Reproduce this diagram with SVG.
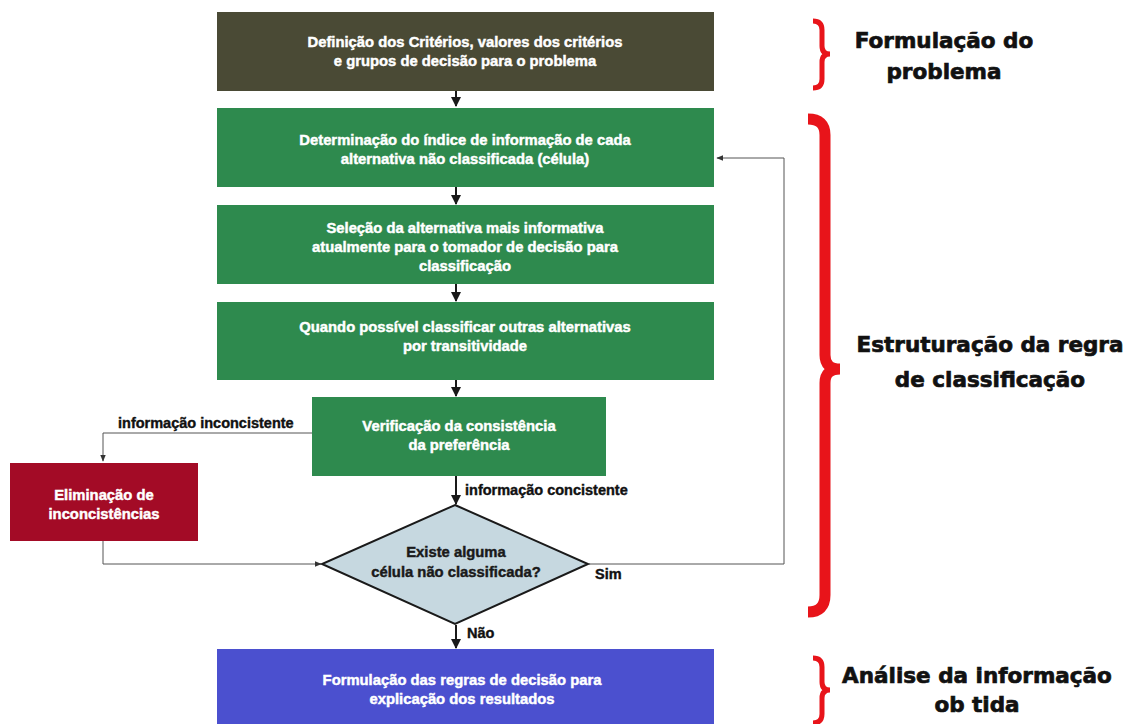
<svg xmlns="http://www.w3.org/2000/svg" width="1134" height="724" viewBox="0 0 1134 724">
  <style>
    .box-text { font-family: "Liberation Sans", Arial, sans-serif; font-weight: bold; font-size: 14.8px; fill: #ffffff; stroke: #ffffff; stroke-width: 0.45; text-anchor: middle; }
    .dark { fill: #1a1a1a; stroke: #1a1a1a; }
    .lbl { font-family: "Liberation Sans", Arial, sans-serif; font-weight: bold; font-size: 14.5px; fill: #111111; stroke: #111111; stroke-width: 0.4; }
    .phase { font-family: "DejaVu Sans", "Liberation Sans", sans-serif; font-weight: bold; font-size: 21.5px; fill: #111111; stroke: #111111; stroke-width: 0.7; text-anchor: middle; }
    .flow { fill: none; stroke: #1a1a1a; stroke-width: 2; }
    .thin { fill: none; stroke: #555555; stroke-width: 1; }
    .brace { fill: none; stroke: #e8141a; stroke-linecap: butt; }
  </style>
  <defs>
    <marker id="arrow" viewBox="0 0 10 10" refX="9" refY="5" markerWidth="5" markerHeight="5" orient="auto">
      <path d="M0,0 L10,5 L0,10 z" fill="#1a1a1a"/>
    </marker>
    <marker id="arrow-thin" viewBox="0 0 10 10" refX="9" refY="5" markerWidth="7" markerHeight="7" orient="auto">
      <path d="M0,1 L10,5 L0,9 z" fill="#333333"/>
    </marker>
  </defs>

  <rect width="1134" height="724" fill="#ffffff"/>

  <!-- connectors -->
  <g id="connectors">
    <path class="flow" d="M456,91 V106" marker-end="url(#arrow)"/>
    <path class="flow" d="M456,187 V204" marker-end="url(#arrow)"/>
    <path class="flow" d="M456,284 V301" marker-end="url(#arrow)"/>
    <path class="flow" d="M456,380 V396" marker-end="url(#arrow)"/>
    <path class="flow" d="M456,476 V504" marker-end="url(#arrow)"/>
    <path class="flow" d="M456,625 V648" marker-end="url(#arrow)"/>
    <!-- inconsistent branch -->
    <path class="thin" d="M312,433 H103 V461" marker-end="url(#arrow-thin)"/>
    <path class="thin" d="M103,541 V564 H321" marker-end="url(#arrow-thin)"/>
    <!-- loop back -->
    <path class="thin" d="M589,564 H784 V158 H717" marker-end="url(#arrow-thin)"/>

    <text class="lbl" x="118" y="428">informação inconcistente</text>
    <text class="lbl" x="465" y="495">informação concistente</text>
    <text class="lbl" x="595" y="579">Sim</text>
    <text class="lbl" x="467" y="638">Não</text>
  </g>

  <g id="n-definicao">
    <rect x="217" y="12" width="497" height="79" fill="#4a4a35"/>
    <text class="box-text" x="465" y="47">Definição dos Critérios, valores dos critérios</text>
    <text class="box-text" x="465" y="66">e grupos de decisão para o problema</text>
  </g>

  <g id="n-determinacao">
    <rect x="217" y="108" width="497" height="79" fill="#2e8a4e"/>
    <text class="box-text" x="465" y="145">Determinação do índice de informação de cada</text>
    <text class="box-text" x="465" y="164">alternativa não classificada (célula)</text>
  </g>

  <g id="n-selecao">
    <rect x="217" y="205" width="497" height="79" fill="#2e8a4e"/>
    <text class="box-text" x="465" y="233">Seleção da alternativa mais informativa</text>
    <text class="box-text" x="465" y="252">atualmente para o tomador de decisão para</text>
    <text class="box-text" x="465" y="271">classificação</text>
  </g>

  <g id="n-transitividade">
    <rect x="217" y="302" width="497" height="78" fill="#2e8a4e"/>
    <text class="box-text" x="465" y="332">Quando possível classificar outras alternativas</text>
    <text class="box-text" x="465" y="351">por transitividade</text>
  </g>

  <g id="n-verificacao">
    <rect x="312" y="397" width="294" height="79" fill="#2e8a4e"/>
    <text class="box-text" x="459" y="431">Verificação da consistência</text>
    <text class="box-text" x="459" y="450">da preferência</text>
  </g>

  <g id="n-eliminacao">
    <rect x="10" y="463" width="188" height="78" fill="#a30b26"/>
    <text class="box-text" x="104" y="500">Eliminação de</text>
    <text class="box-text" x="104" y="519">inconcistências</text>
  </g>

  <g id="n-decisao">
    <polygon points="455,505 588,564 455,624 322,564" fill="#c6d8e0" stroke="#1a1a1a" stroke-width="2"/>
    <text class="box-text dark" x="456" y="557">Existe alguma</text>
    <text class="box-text dark" x="456" y="577">célula não classificada?</text>
  </g>

  <g id="n-formulacao">
    <rect x="217" y="649" width="497" height="75" fill="#4b50cf"/>
    <text class="box-text" x="462" y="685">Formulação das regras de decisão para</text>
    <text class="box-text" x="462" y="704">explicação dos resultados</text>
  </g>

  <!-- phase braces and labels -->
  <g id="phase-formulacao">
    <path class="brace" stroke-width="5" d="M813,21 Q822,21 822,30 V46 Q822,54 830,54 Q822,54 822,62 V79 Q822,88 813,88"/>
    <text class="phase" x="944" y="48">Formulação do</text>
    <text class="phase" x="944" y="79">problema</text>
  </g>

  <g id="phase-estruturacao">
    <path class="brace" stroke-width="11" d="M808,119 Q825,119 825,135 V355 Q825,369 840,369 Q825,369 825,383 V595 Q825,612 808,612"/>
    <text class="phase" x="990" y="352">Estruturação da regra</text>
    <text class="phase" x="990" y="387">de classificação</text>
  </g>

  <g id="phase-analise">
    <path class="brace" stroke-width="5" d="M813,658 Q822,658 822,667 V682 Q822,690 830,690 Q822,690 822,698 V714 Q822,723 813,723"/>
    <text class="phase" x="977" y="683">Análise da informação</text>
    <text class="phase" x="977" y="712">ob tida</text>
  </g>
</svg>
